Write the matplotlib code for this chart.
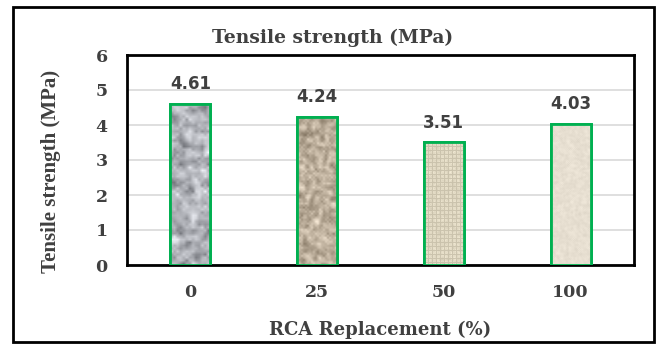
import numpy as np
import matplotlib.pyplot as plt
from matplotlib.patches import Rectangle

# ---- data ----
categories = ['0', '25', '50', '100']
strength = [4.61, 4.24, 3.51, 4.03]
labels = ['4.61', '4.24', '3.51', '4.03']
y_ticks = [0, 1, 2, 3, 4, 5, 6]

TXT = '#404040'
GREEN = '#00b050'
SERIF = 'Liberation Serif'
WIDE = 'DejaVu Serif'   # horizontal text in the source looks stretched

rng = np.random.default_rng(7)


def blur(a, n=2):
    # cheap box blur, wraps round the edges
    for _ in range(n):
        a = (a + np.roll(a, 1, 0) + np.roll(a, -1, 0) + np.roll(a, 1, 1) + np.roll(a, -1, 1)) / 5.0
    return a


def norm(a):
    return (a - a.min()) / (a.max() - a.min() + 1e-9)


def texture(kind, rows, cols):
    """Material look of each bar (granite, brown aggregate, burlap, sand)."""
    if kind == 'granite':
        # coarser grain: low-res noise, upsampled by the bilinear imshow
        n = norm(blur(rng.random((rows // 3, cols // 3)), 1))
        v = 115 + 130 * n
        img = np.stack([v, v + 2, v + 8], axis=-1)
    elif kind == 'brown':
        n = norm(blur(rng.random((rows // 2, cols // 2)), 1))
        v = 100 + 120 * n
        img = np.stack([v + 28, v + 14, v - 5], axis=-1)
    elif kind == 'burlap':
        n = norm(blur(rng.random((rows, cols)), 1))
        yy, xx = np.mgrid[0:rows, 0:cols]
        weave = ((xx % 4 == 0) | (yy % 4 == 0)).astype(float)
        v = 205 + 30 * n - 24 * weave * (0.5 + n)
        img = np.stack([v + 8, v, v - 22], axis=-1)
    else:
        n = norm(blur(rng.random((rows, cols)), 2))
        v = 212 + 22 * n
        img = np.stack([v + 8, v, v - 14], axis=-1)
    return np.clip(img, 0, 255).astype(np.uint8)


kinds = ['granite', 'brown', 'burlap', 'sand']

fig = plt.figure(figsize=(6.57, 3.45), dpi=100)
ax = fig.add_axes([127 / 657, 1 - 265 / 345, 507 / 657, 210 / 345])

x = np.arange(len(categories))
bars = ax.bar(x, strength, width=0.315, color='#e0d8c8', edgecolor=GREEN,
              linewidth=2, zorder=3)

for b, kind in zip(bars, kinds):
    x0, w, h = b.get_x(), b.get_width(), b.get_height()
    tex = texture(kind, int(h * 35) + 1, 40)
    im = ax.imshow(tex, extent=[x0, x0 + w, 0, h], aspect='auto',
                   interpolation='bilinear', zorder=3.5)
    im.set_clip_path(b)
    # redraw the green outline on top of the texture
    ax.add_patch(Rectangle((x0, 0), w, h, fill=False, edgecolor=GREEN,
                           linewidth=2, zorder=4))

for xi, v, t in zip(x, strength, labels):
    ax.text(xi, v + 0.3, t, ha='center', va='bottom', fontsize=12,
            fontweight='bold', color=TXT, family='DejaVu Sans')

ax.set_xlim(-0.5, len(categories) - 0.5)
ax.set_ylim(0, 6)
ax.set_yticks(y_ticks)
ax.set_xticks(x)
ax.set_xticklabels(categories)
ax.yaxis.grid(True, color='#d9d9d9', linewidth=1.2, zorder=0)
ax.set_axisbelow(True)
ax.tick_params(length=0, labelsize=12.5, labelcolor=TXT)
ax.tick_params(axis='y', pad=14)
ax.tick_params(axis='x', pad=14)
for lab in ax.get_xticklabels() + ax.get_yticklabels():
    lab.set_family(WIDE)
    lab.set_fontweight('bold')
for s in ax.spines.values():
    s.set_linewidth(2)
    s.set_color('black')

fig.text(333 / 657, 1 - 38 / 345, 'Tensile strength (MPa)', ha='center', va='center',
         fontsize=13.5, fontweight='bold', family=WIDE, color=TXT)
fig.text(380 / 657, 1 - 330 / 345, 'RCA Replacement (%)', ha='center', va='center',
         fontsize=13, fontweight='bold', family=WIDE, color=TXT)
fig.text(51 / 657, 1 - 171 / 345, 'Tensile strength (MPa)', ha='center', va='center',
         rotation=90, fontsize=15, fontweight='bold', family=SERIF, color=TXT)

# outer chart frame
fig.patches.append(Rectangle((13 / 657, 3 / 345), 641 / 657, 335 / 345,
                             transform=fig.transFigure, fill=False,
                             edgecolor='black', linewidth=2))

fig.savefig('out.png', dpi=100)
